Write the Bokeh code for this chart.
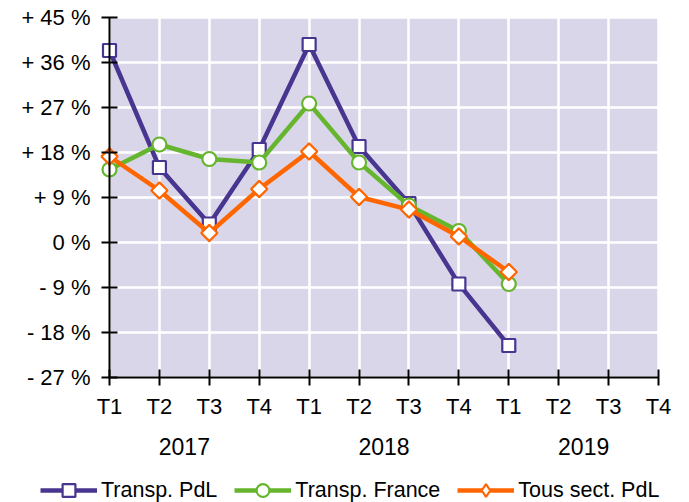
import numpy as np
from bokeh.plotting import figure
from bokeh.models import (Range1d, LinearAxis, FixedTicker, Legend, LegendItem, Grid, BoxAnnotation)
from bokeh.embed import file_html
from bokeh.resources import INLINE

# ---- data ----
quarters = ["T1", "T2", "T3", "T4", "T1", "T2", "T3", "T4", "T1", "T2", "T3", "T4"]
years = ["2017", "2018", "2019"]
transp_pdl = [38.4, 15.0, 3.7, 18.6, 39.6, 19.2, 7.8, -8.3, -20.6]
transp_france = [14.6, 19.6, 16.7, 16.0, 27.8, 16.0, 7.4, 2.3, -8.3]
tous_sect_pdl = [17.2, 10.4, 1.9, 10.7, 18.2, 9.1, 6.6, 1.2, -5.9]
y_ticks = [-27, -18, -9, 0, 9, 18, 27, 36, 45]
series_names = ["Transp. PdL", "Transp. France", "Tous sect. PdL"]

FONT = "Liberation Sans"
FS = "22px"
purple = "#483590"
green = "#66B52E"
orange = "#FF6600"
bg = "#D9D6E9"

W, H = 689, 502
# pixel placement of the plotting box inside the figure
BOX_L, BOX_R, BOX_T, BOX_B = 109, 658, 17, 377

x_idx = list(range(len(transp_pdl)))
x_last = len(quarters) - 1
y_lo, y_hi = y_ticks[0], y_ticks[-1]
kx = (BOX_R - BOX_L) / x_last
ky = (BOX_B - BOX_T) / (y_hi - y_lo)

p = figure(width=W, height=H, output_backend="svg", toolbar_location=None,
           x_range=Range1d(-BOX_L / kx, x_last + (W - BOX_R) / kx),
           y_range=Range1d(y_lo - (H - BOX_B) / ky, y_hi + BOX_T / ky),
           x_axis_type=None, y_axis_type=None)
p.min_border_left = p.min_border_right = p.min_border_top = p.min_border_bottom = 0
p.outline_line_color = None
p.background_fill_color = "white"
p.border_fill_color = "white"

# plotting box background
p.add_layout(BoxAnnotation(left=0, right=x_last, bottom=y_lo, top=y_hi, fill_color=bg,
                           fill_alpha=1, line_color=None, level="image"))

# grids
xt = list(range(len(quarters)))
p.add_layout(Grid(dimension=0, ticker=FixedTicker(ticks=xt), grid_line_color="white", grid_line_width=2.5))
p.add_layout(Grid(dimension=1, ticker=FixedTicker(ticks=y_ticks), grid_line_color="white", grid_line_width=2.5))

def style(ax):
    ax.minor_tick_line_color = None
    ax.axis_line_width = 2
    ax.major_tick_line_width = 2
    ax.axis_line_color = "black"
    ax.major_tick_line_color = "black"
    ax.major_label_text_font = FONT
    ax.major_label_text_font_size = FS
    ax.major_label_text_color = "black"

# y axis
yax = LinearAxis(ticker=FixedTicker(ticks=y_ticks), fixed_location=0, bounds=(y_lo, y_hi))
yax.major_label_overrides = {t: (("+ %d %%" % t) if t > 0 else ("0 %" if t == 0 else "- %d %%" % (-t))) for t in y_ticks}
style(yax)
yax.major_tick_in = 8
yax.major_tick_out = 8
yax.major_label_standoff = 11
p.add_layout(yax, "left")

# quarter axis
xax = LinearAxis(ticker=FixedTicker(ticks=xt), fixed_location=y_lo, bounds=(0, x_last))
xax.major_label_overrides = {i: q for i, q in enumerate(quarters)}
style(xax)
xax.major_tick_in = 8
xax.major_tick_out = 8
xax.major_label_standoff = 8
p.add_layout(xax, "below")

# year axis
yr_pos = [1.5, 5.5, 9.5]
yrax = LinearAxis(ticker=FixedTicker(ticks=yr_pos), fixed_location=y_lo)
yrax.major_label_overrides = {pos: y for pos, y in zip(yr_pos, years)}
style(yrax)
yrax.axis_line_color = None
yrax.major_tick_line_color = None
yrax.major_tick_out = 0
yrax.major_tick_in = 0
yrax.major_label_text_font_size = "23px"
yrax.major_label_standoff = 60
p.add_layout(yrax, "below")

specs = [(transp_pdl, purple, "square", 13, 0.0, "square"),
         (transp_france, green, "circle", 14, 0.0, "circle"),
         (tous_sect_pdl, orange, "square", 11.5, np.pi / 4, "diamond")]
items = []
for (vals, col, mk, sz, ang, lmk), name in zip(specs, series_names):
    l = p.line(x_idx, vals, line_color=col, line_width=4.5, line_join="miter")
    if lmk != mk:
        # legend-shaped marker, hidden underneath the rotated squares
        s_leg = p.scatter(x_idx, vals, marker=lmk, size=sz, fill_color="white",
                          line_color=col, line_width=2.2)
    s = p.scatter(x_idx, vals, marker=mk, size=sz, angle=ang, fill_color="white",
                  line_color=col, line_width=2.2)
    items.append(LegendItem(label=name, renderers=[l, s_leg if lmk != mk else s]))

legend = Legend(items=items, orientation="horizontal", location=(40, -4))
legend.glyph_width = 57
legend.glyph_height = 32
legend.label_height = 32
legend.label_standoff = 4
legend.spacing = 17
legend.padding = 0
legend.margin = 0
legend.border_line_color = None
legend.background_fill_alpha = 0
legend.label_text_font = FONT
legend.label_text_font_size = "21.5px"
legend.label_text_color = "black"
p.add_layout(legend, "center")

open("out.html", "w").write(file_html(p, INLINE))
